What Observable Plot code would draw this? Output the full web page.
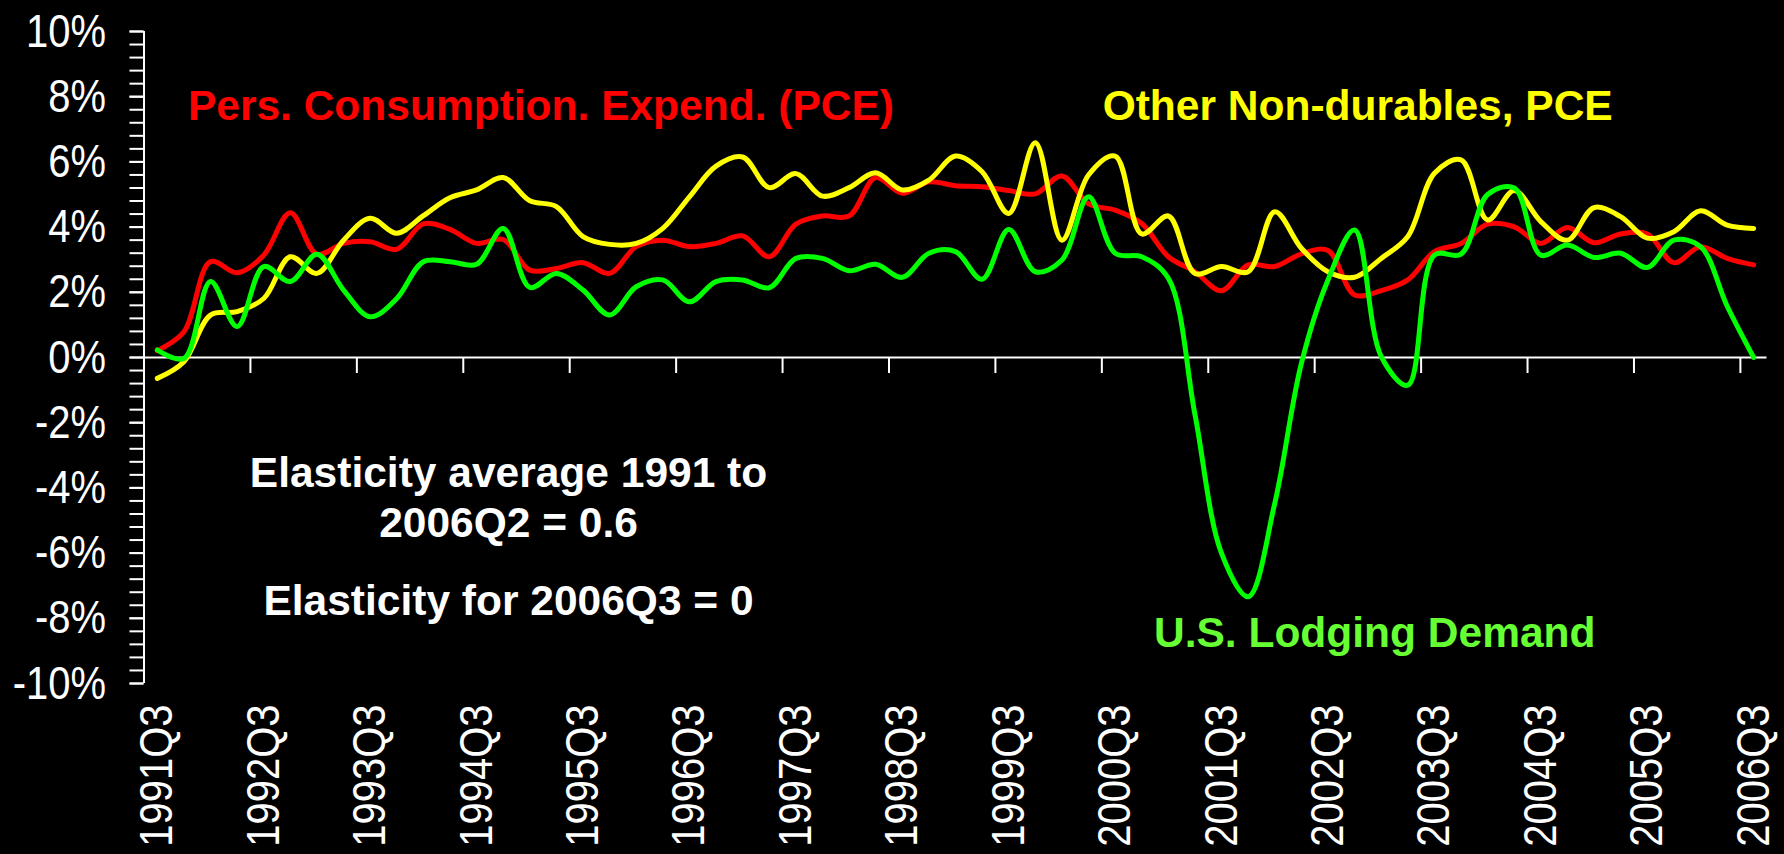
<!DOCTYPE html>
<html>
<head>
<meta charset="utf-8">
<script src="https://cdn.jsdelivr.net/npm/d3@7"></script>
<script src="https://cdn.jsdelivr.net/npm/@observablehq/plot@0.6"></script>
<style>
  html, body { margin: 0; padding: 0; background: #000; }
  #chart { width: 1784px; height: 854px; overflow: hidden; }
</style>
</head>
<body>
<div id="chart"></div>
<script>
// ---- Categories (quarters) ----
const quarters = [
  "1991Q3","1991Q4",
  "1992Q1","1992Q2","1992Q3","1992Q4",
  "1993Q1","1993Q2","1993Q3","1993Q4",
  "1994Q1","1994Q2","1994Q3","1994Q4",
  "1995Q1","1995Q2","1995Q3","1995Q4",
  "1996Q1","1996Q2","1996Q3","1996Q4",
  "1997Q1","1997Q2","1997Q3","1997Q4",
  "1998Q1","1998Q2","1998Q3","1998Q4",
  "1999Q1","1999Q2","1999Q3","1999Q4",
  "2000Q1","2000Q2","2000Q3","2000Q4",
  "2001Q1","2001Q2","2001Q3","2001Q4",
  "2002Q1","2002Q2","2002Q3","2002Q4",
  "2003Q1","2003Q2","2003Q3","2003Q4",
  "2004Q1","2004Q2","2004Q3","2004Q4",
  "2005Q1","2005Q2","2005Q3","2005Q4",
  "2006Q1","2006Q2","2006Q3"
];

// ---- Series values (% change, year over year) ----
const pce = [
  0.21, 0.79, 2.94, 2.60, 3.14, 4.44, 3.17, 3.50, 3.55, 3.32,
  4.10, 3.93, 3.50, 3.62, 2.68, 2.73, 2.91, 2.58, 3.40, 3.60,
  3.40, 3.50, 3.73, 3.09, 4.09, 4.34, 4.34, 5.52, 5.04, 5.39,
  5.27, 5.24, 5.12, 5.02, 5.57, 4.71, 4.52, 4.11, 3.09, 2.63,
  2.05, 2.84, 2.79, 3.18, 3.28, 1.92, 2.05, 2.38, 3.25, 3.50,
  4.09, 4.01, 3.50, 3.99, 3.52, 3.79, 3.79, 2.91, 3.40, 3.04,
  2.84
];
const otherNonDurables = [
  -0.64, -0.13, 1.30, 1.41, 1.81, 3.09, 2.58, 3.60, 4.27, 3.81,
  4.35, 4.90, 5.14, 5.52, 4.81, 4.63, 3.71, 3.47, 3.50, 3.96,
  4.93, 5.87, 6.15, 5.21, 5.64, 4.95, 5.21, 5.67, 5.14, 5.44,
  6.18, 5.70, 4.42, 6.59, 3.60, 5.60, 6.18, 3.79, 4.34, 2.58,
  2.79, 2.63, 4.47, 3.35, 2.63, 2.46, 3.04, 3.71, 5.65, 6.06,
  4.22, 5.12, 4.17, 3.60, 4.60, 4.32, 3.66, 3.86, 4.50, 4.06,
  3.96
];
const lodging = [
  0.23, -0.03, 2.33, 0.95, 2.79, 2.33, 3.17, 2.07, 1.25, 1.81,
  2.94, 2.94, 2.86, 3.96, 2.15, 2.58, 2.07, 1.30, 2.17, 2.38,
  1.71, 2.33, 2.38, 2.14, 3.04, 3.04, 2.66, 2.86, 2.46, 3.20,
  3.25, 2.40, 3.93, 2.63, 2.99, 4.93, 3.20, 3.09, 2.43, -1.75,
  -6.01, -7.34, -4.47, -0.18, 2.38, 3.91, 0.03, -0.85, 3.14, 3.17,
  5.00, 5.20, 3.14, 3.45, 3.07, 3.20, 2.76, 3.60, 3.40, 1.58,
  0.00
];

// ---- Axis ticks ----
const yTickValues = [-10, -8, -6, -4, -2, 0, 2, 4, 6, 8, 10];
const yMinorStep = 0.4;
const xLabelEvery = 4;

// ---- Annotations (x = quarter index, y = percent) ----
const seriesLabels = [
  {text: "Pers. Consumption. Expend. (PCE)", x: 1.15, y: 7.29, color: "#ff0000"},
  {text: "Other Non-durables, PCE", x: 35.53, y: 7.29, color: "#ffff00"},
  {text: "U.S. Lodging Demand", x: 37.46, y: -8.87, color: "#66ff33"}
];
const noteLines = [
  {text: "Elasticity average 1991 to", x: 13.2, y: -3.98},
  {text: "2006Q2 = 0.6", x: 13.2, y: -5.50},
  {text: "Elasticity for 2006Q3 = 0", x: 13.2, y: -7.90}
];

// ---- Build table ----
const data = quarters.map((q, i) => ({i, q, pce: pce[i], ond: otherNonDurables[i], lodging: lodging[i]}));
const xDomain = [-0.5, quarters.length - 0.5];
const labelIdx = quarters.map((q, i) => i).filter(i => i % xLabelEvery === 0);
const boundaries = labelIdx.filter(i => i > 0).map(i => i - 0.5);
const yMinor = d3.range(Math.round(20 / yMinorStep) + 1).map(k => +(-10 + k * yMinorStep).toFixed(2));

const boldFont = '"Liberation Sans", Arial, sans-serif';
const tickFont = '"Liberation Sans", Arial, sans-serif';

const chart = Plot.plot({
  width: 1784,
  height: 854,
  marginLeft: 143.5,
  marginRight: 17.5,
  marginTop: 31,
  marginBottom: 171,
  style: {background: "#000", color: "#fff", fontFamily: tickFont, fontSize: "47px"},
  x: {type: "linear", domain: xDomain, label: null},
  y: {domain: [-10, 10], label: null},
  marks: [
    Plot.axisY({ticks: yMinor, tickSize: 14, tickFormat: () => "", strokeWidth: 2, label: null}),
    Plot.axisY({ticks: yTickValues, tickSize: 14, tickPadding: 24, tickFormat: d => `${d}%`, strokeWidth: 2, label: null, fontFamily: tickFont, fontSize: 47}),
    Plot.axisX({ticks: labelIdx, tickSize: 0, tickRotate: -90, tickPadding: 21, tickFormat: i => quarters[i], label: null, fontFamily: tickFont, fontSize: 47}),
    Plot.ruleX([xDomain[0]], {stroke: "#fff", strokeWidth: 2}),
    Plot.ruleY([0], {stroke: "#fff", strokeWidth: 2}),
    Plot.ruleX(boundaries, {y1: 0, y2: 0, insetBottom: -16, stroke: "#fff", strokeWidth: 2}),
    Plot.line(data, {x: "i", y: "pce", stroke: "#ff0000", strokeWidth: 5, curve: "catmull-rom"}),
    Plot.line(data, {x: "i", y: "ond", stroke: "#ffff00", strokeWidth: 5, curve: "catmull-rom"}),
    Plot.line(data, {x: "i", y: "lodging", stroke: "#00ff00", strokeWidth: 5, curve: "catmull-rom"}),
    Plot.text(seriesLabels, {x: "x", y: "y", text: "text", fill: "color", textAnchor: "start", lineAnchor: "bottom", fontFamily: boldFont, fontWeight: "bold", fontSize: 42.5}),
    Plot.text(noteLines, {x: "x", y: "y", text: "text", fill: "#fff", textAnchor: "middle", lineAnchor: "bottom", fontFamily: boldFont, fontWeight: "bold", fontSize: 42.5})
  ]
});
document.getElementById("chart").appendChild(chart);

// Tick labels in the reference use a narrow face: condense them horizontally.
const narrowRatio = 0.85;
d3.select(chart).selectAll('g[aria-label$="tick label"] text').each(function () {
  const len = this.getComputedTextLength();
  if (len > 0) {
    this.setAttribute("textLength", (len * narrowRatio).toFixed(1));
    this.setAttribute("lengthAdjust", "spacingAndGlyphs");
  }
});
</script>
</body>
</html>
